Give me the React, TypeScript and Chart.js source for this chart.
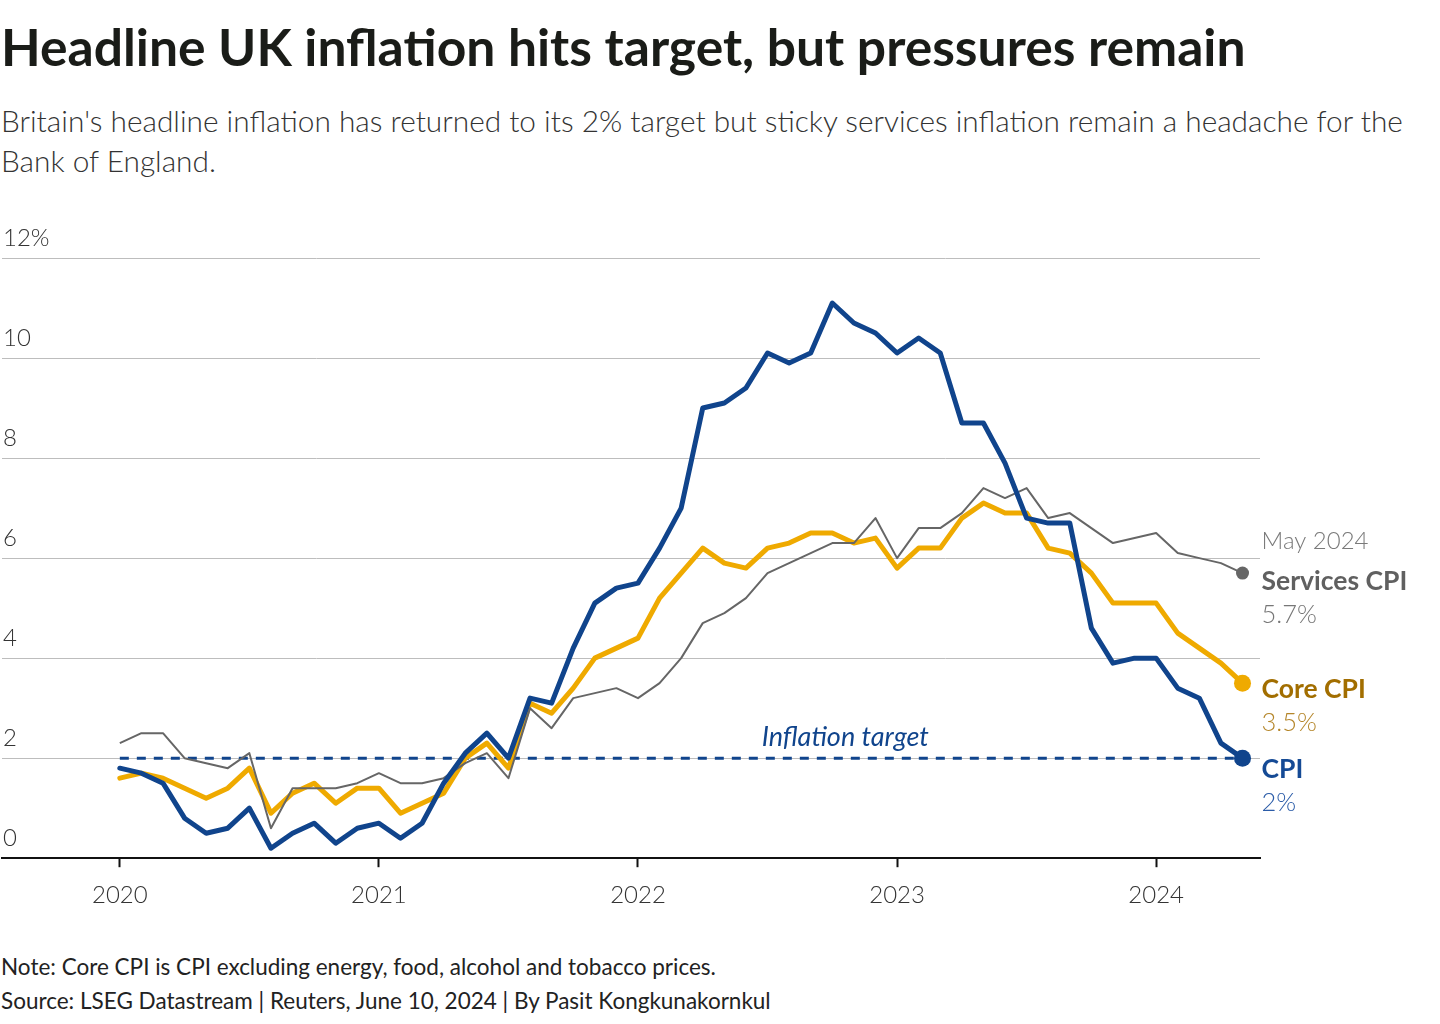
import React, { useEffect, useRef } from 'react';
import { Chart, registerables } from 'chart.js';

Chart.register(...registerables);

// ---------- DATA ----------
// Monthly readings, Jan 2020 .. May 2024 (annual % change)
const CPI = [
  1.8, 1.7, 1.5, 0.8, 0.5, 0.6, 1.0, 0.2, 0.5, 0.7, 0.3, 0.6,
  0.7, 0.4, 0.7, 1.5, 2.1, 2.5, 2.0, 3.2, 3.1, 4.2, 5.1, 5.4,
  5.5, 6.2, 7.0, 9.0, 9.1, 9.4, 10.1, 9.9, 10.1, 11.1, 10.7, 10.5,
  10.1, 10.4, 10.1, 8.7, 8.7, 7.9, 6.8, 6.7, 6.7, 4.6, 3.9, 4.0,
  4.0, 3.4, 3.2, 2.3, 2.0,
];
const CORE_CPI = [
  1.6, 1.7, 1.6, 1.4, 1.2, 1.4, 1.8, 0.9, 1.3, 1.5, 1.1, 1.4,
  1.4, 0.9, 1.1, 1.3, 2.0, 2.3, 1.8, 3.1, 2.9, 3.4, 4.0, 4.2,
  4.4, 5.2, 5.7, 6.2, 5.9, 5.8, 6.2, 6.3, 6.5, 6.5, 6.3, 6.4,
  5.8, 6.2, 6.2, 6.8, 7.1, 6.9, 6.9, 6.2, 6.1, 5.7, 5.1, 5.1,
  5.1, 4.5, 4.2, 3.9, 3.5,
];
const SERVICES_CPI = [
  2.3, 2.5, 2.5, 2.0, 1.9, 1.8, 2.1, 0.6, 1.4, 1.4, 1.4, 1.5,
  1.7, 1.5, 1.5, 1.6, 1.9, 2.1, 1.6, 3.0, 2.6, 3.2, 3.3, 3.4,
  3.2, 3.5, 4.0, 4.7, 4.9, 5.2, 5.7, 5.9, 6.1, 6.3, 6.3, 6.8,
  6.0, 6.6, 6.6, 6.9, 7.4, 7.2, 7.4, 6.8, 6.9, 6.6, 6.3, 6.4,
  6.5, 6.1, 6.0, 5.9, 5.7,
];
const TARGET = 2;
const LATEST_LABEL = 'May 2024';

const Y_TICKS = [0, 2, 4, 6, 8, 10, 12];
const Y_TICK_LABELS = ['0', '2', '4', '6', '8', '10', '12%'];
const X_TICK_MONTHS = [0, 12, 24, 36, 48]; // months since Jan 2020
const X_TICK_LABELS = ['2020', '2021', '2022', '2023', '2024'];
const TARGET_LABEL_MONTH = 33.6;

// ---------- STYLE ----------
const FONT = 'Lato, "Source Sans Pro", "Noto Sans", sans-serif';
const BLUE = '#10448c';
const AMBER = '#efaa00';
const GRAY = '#666666';

const toPoints = (arr: number[]) => arr.map((y, i) => ({ x: i, y }));
const lastIdx = (arr: number[]) => arr.length - 1;
const fmt = (v: number) => `${Number(v.toFixed(1))}%`;

type LabelLine = { text: string; dy: number; weight: number; size: number; color: string };
const END_LABELS: { values: number[]; lines: LabelLine[] }[] = [
  {
    values: SERVICES_CPI,
    lines: [
      { text: LATEST_LABEL, dy: -32, weight: 300, size: 24, color: '#7a7a7a' },
      { text: 'Services CPI', dy: 8, weight: 700, size: 26.5, color: '#606060' },
      { text: fmt(SERVICES_CPI[lastIdx(SERVICES_CPI)]), dy: 42, weight: 300, size: 25.5, color: '#777777' },
    ],
  },
  {
    values: CORE_CPI,
    lines: [
      { text: 'Core CPI', dy: 6, weight: 700, size: 26.5, color: '#a26e00' },
      { text: fmt(CORE_CPI[lastIdx(CORE_CPI)]), dy: 40, weight: 300, size: 25.5, color: '#b5862a' },
    ],
  },
  {
    values: CPI,
    lines: [
      { text: 'CPI', dy: 11, weight: 700, size: 26.5, color: '#154a95' },
      { text: fmt(CPI[lastIdx(CPI)]), dy: 45, weight: 300, size: 25.5, color: '#2b5ca8' },
    ],
  },
];

const labelsPlugin = {
  id: 'customLabels',
  afterDatasetsDraw(chart: any) {
    const { ctx, scales } = chart;
    const xs = scales.x;
    const ys = scales.y;
    ctx.save();
    ctx.textBaseline = 'middle';
    // inflation target label
    ctx.font = `italic 400 27px ${FONT}`;
    ctx.fillStyle = BLUE;
    ctx.textAlign = 'center';
    ctx.fillText('Inflation target', xs.getPixelForValue(TARGET_LABEL_MONTH), ys.getPixelForValue(TARGET) - 21);
    // end labels
    ctx.textAlign = 'left';
    END_LABELS.forEach((s) => {
      const li = lastIdx(s.values);
      const px = xs.getPixelForValue(li) + 19;
      const py = ys.getPixelForValue(s.values[li]);
      s.lines.forEach((l) => {
        ctx.font = `${l.weight} ${l.size}px ${FONT}`;
        ctx.fillStyle = l.color;
        ctx.fillText(l.text, px, py + l.dy);
      });
    });
    ctx.restore();
  },
};

const endRadius = (arr: number[], r: number) => (c: any) => (c.dataIndex === lastIdx(arr) ? r : 0);

export default function App() {
  const ref = useRef<HTMLCanvasElement | null>(null);

  useEffect(() => {
    if (!ref.current) return;
    const chart = new Chart(ref.current, {
      type: 'line',
      data: {
        datasets: [
          {
            label: 'CPI',
            data: toPoints(CPI),
            borderColor: BLUE,
            backgroundColor: BLUE,
            borderWidth: 5,
            pointRadius: endRadius(CPI, 8.5),
            pointBorderWidth: 0,
            pointHoverRadius: 0,
            borderJoinStyle: 'round',
            borderCapStyle: 'round',
          },
          {
            label: 'Services CPI',
            data: toPoints(SERVICES_CPI),
            borderColor: GRAY,
            backgroundColor: GRAY,
            borderWidth: 2,
            pointRadius: endRadius(SERVICES_CPI, 6.5),
            pointBorderWidth: 0,
            pointHoverRadius: 0,
            borderJoinStyle: 'round',
          },
          {
            label: 'Core CPI',
            data: toPoints(CORE_CPI),
            borderColor: AMBER,
            backgroundColor: AMBER,
            borderWidth: 5,
            pointRadius: endRadius(CORE_CPI, 8.5),
            pointBorderWidth: 0,
            pointHoverRadius: 0,
            borderJoinStyle: 'round',
            borderCapStyle: 'round',
          },
          {
            label: 'Inflation target',
            data: [
              { x: 0, y: TARGET },
              { x: lastIdx(CPI), y: TARGET },
            ],
            borderColor: BLUE,
            borderWidth: 3,
            borderDash: [9, 8],
            pointRadius: 0,
            pointHoverRadius: 0,
          },
        ],
      },
      options: {
        animation: false,
        responsive: false,
        devicePixelRatio: 1,
        layout: { autoPadding: false, padding: { top: 58, right: 180, left: 0, bottom: 0 } },
        plugins: {
          legend: { display: false },
          tooltip: { enabled: false },
        },
        scales: {
          x: {
            type: 'linear',
            min: -5.457,
            max: 52.81,
            afterBuildTicks: (scale: any) => {
              scale.ticks = X_TICK_MONTHS.map((v) => ({ value: v }));
            },
            ticks: {
              callback: (_v: any, i: number) => X_TICK_LABELS[i],
              font: { family: FONT, size: 24, weight: 300 },
              color: '#333333',
              padding: 14,
              maxRotation: 0,
              autoSkip: false,
            },
            grid: {
              drawOnChartArea: false,
              drawTicks: true,
              tickLength: 9,
              tickColor: '#111111',
              tickWidth: 2,
            },
            border: { display: true, color: '#111111', width: 2 },
          },
          y: {
            type: 'linear',
            min: 0,
            max: 12,
            afterBuildTicks: (scale: any) => {
              scale.ticks = Y_TICKS.map((v) => ({ value: v }));
            },
            ticks: {
              mirror: true,
              padding: 1,
              labelOffset: -20,
              callback: (_v: any, i: number) => Y_TICK_LABELS[i],
              font: { family: FONT, size: 24, weight: 300 },
              color: '#333333',
            },
            grid: {
              drawTicks: false,
              tickLength: 0,
              color: (c: any) => (c.tick && c.tick.value === 0 ? 'rgba(0,0,0,0)' : '#bdbdbd'),
              lineWidth: 1,
            },
            border: { display: false },
          },
        },
      },
      plugins: [labelsPlugin],
    } as any);
    return () => chart.destroy();
  }, []);

  return (
    <div
      style={{
        position: 'absolute',
        left: 0,
        top: 0,
        width: 1440,
        height: 1024,
        background: '#ffffff',
        overflow: 'hidden',
        fontFamily: FONT,
      }}
    >
      <div
        style={{
          position: 'absolute',
          left: 1,
          top: 20,
          fontSize: 51.6,
          lineHeight: '52px',
          fontWeight: 700,
          color: '#1a1c18',
          whiteSpace: 'nowrap',
        }}
      >
        Headline UK inflation hits target, but pressures remain
      </div>
      <div
        style={{
          position: 'absolute',
          left: 1,
          top: 101,
          fontSize: 29.8,
          lineHeight: '40px',
          fontWeight: 300,
          color: '#333333',
          whiteSpace: 'nowrap',
        }}
      >
        Britain's headline inflation has returned to its 2% target but sticky services inflation remain a headache for the
        <br />
        Bank of England.
      </div>
      <canvas
        ref={ref}
        width={1440}
        height={724}
        style={{ position: 'absolute', left: 0, top: 200, width: 1440, height: 724 }}
      />
      <div
        style={{
          position: 'absolute',
          left: 1,
          top: 950,
          fontSize: 22.5,
          lineHeight: '34px',
          fontWeight: 400,
          color: '#222222',
          whiteSpace: 'nowrap',
        }}
      >
        Note: Core CPI is CPI excluding energy, food, alcohol and tobacco prices.
        <br />
        Source: LSEG Datastream | Reuters, June 10, 2024 | By Pasit Kongkunakornkul
      </div>
    </div>
  );
}
